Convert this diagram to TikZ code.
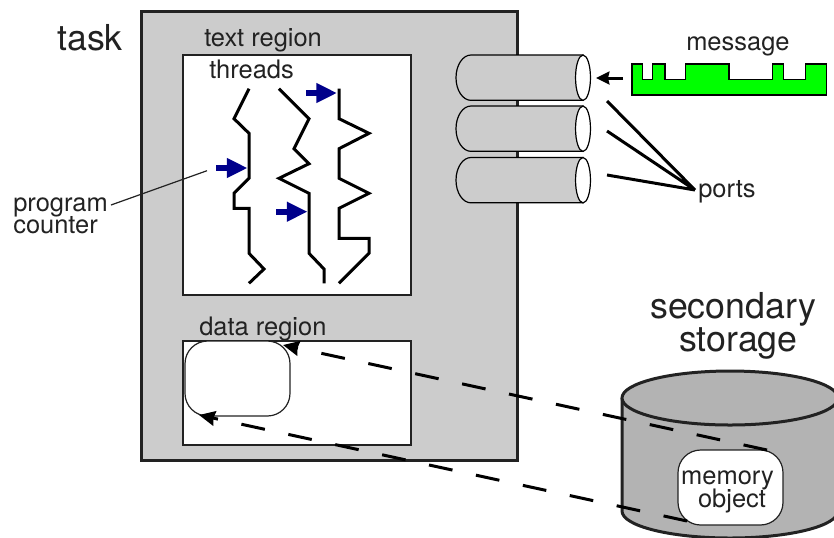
\documentclass[tikz,border=0pt]{standalone}
\usepackage{fontspec}
\setmainfont{TeX Gyre Heros}
\usetikzlibrary{arrows.meta}
\definecolor{taskgray}{HTML}{CCCCCC}
\definecolor{diskgray}{HTML}{B3B3B3}
\definecolor{pcblue}{RGB}{0,0,139}
\definecolor{ink}{HTML}{222222}
\tikzset{
  thin line/.style={draw=ink,line width=0.9pt},
  heavy/.style={draw=black,line width=2.25pt,line join=miter},
  label/.style={anchor=base west,inner sep=0pt,text=ink,font=\fontsize{19.1}{16.5}\selectfont},
  biglabel/.style={label,font=\fontsize{26.8}{24.75}\selectfont},
  pc arrow/.style={draw=pcblue,line width=4.5pt,-{Triangle[length=15.5pt,width=14pt]}},
  fetch/.style={draw=black,line width=2.25pt,dash pattern=on 18pt off 18pt,-{Stealth[length=12pt,width=11pt,inset=1pt]}},
  region/.style={fill=white,draw=ink,line width=0.9pt},
}
\begin{document}
\begin{tikzpicture}[x=0.75pt,y=-0.75pt]
\clip (0,0) rectangle (834,537);
% task body
\draw[fill=taskgray,draw=ink,line width=2.25pt] (141,11) rectangle (517,460);
\node[biglabel] (tasklabel) at (57,50) {task};
\draw[region] (183,55) rectangle (411,295);
\draw[region] (183,341) rectangle (411,445);
\node[label] (textlabel) at (204,46) {text region};
\node[label] (threadlabel) at (209,78) {threads};
\node[label] (datalabel) at (199,335) {data region};
% threads
\draw[heavy] (249,88.7)--(234,118.7)--(249,133.3)--(249,178.3)--(234,193.3)--(234,208.3)--(249,208.3)--(249,253.3)--(264,269)--(249,283.3);
\draw[heavy] (279,88.7)--(309,118.7)--(294,148.7)--(309,163.7)--(279,178.3)--(309,193.3)--(309,253.3)--(324,269)--(324,283.3);
\draw[heavy] (339,88.7)--(339,118.7)--(369,133.3)--(339,148.7)--(339,178.3)--(369,193.3)--(339,208.3)--(339,238.3)--(369,238.3)--(369,253.3)--(339,283.3);
% program counters
\draw[pc arrow] (216,168)--(247.5,168);
\draw[pc arrow] (276,211.7)--(307.5,211.7);
\draw[pc arrow] (306,93)--(337,93);
\node[label,align=left] (pc) at (13,233) {program\\[-2pt]counter};
\coordinate (pcstart) at (111,205);
\coordinate (pcend) at (207,170.7);
\draw[thin line] (pcstart)--(pcend);
% ports
\foreach \t/\n in {55/a,106/b,157.5/c}{
  \path[fill=taskgray,draw=black,line width=0.9pt] (471,\t) arc[start angle=90,end angle=270,x radius=11.25pt,y radius=17pt] -- ++(112,0) -- ++(0,-45.3) -- cycle;
  \draw[fill=white,draw=black,line width=0.9pt] (583,\t+22.7) ellipse[x radius=5.6pt,y radius=17pt];
  \coordinate (port\n) at (583,\t+22.7);
}
% message
\draw[fill=green,draw=black,line width=0.9pt] (632,64)--(642.3,64)--(642.3,79.3)--(652.7,79.3)--(652.7,64)--(665,64)--(665,79.3)--(685.7,79.3)--(685.7,64)--(729,64)--(729,79.3)--(772.7,79.3)--(772.7,64)--(783.3,64)--(783.3,79.3)--(805.7,79.3)--(805.7,64)--(826.7,64)--(826.7,95)--(632,95)--cycle;
\node[label] (msglabel) at (686,50) {message};
\coordinate (msgfrom) at (623,78);
\coordinate (msgto) at (596,78);
\draw[draw=black,line width=2.25pt,-{Stealth[length=10pt,width=9.5pt,inset=1pt]}] (msgfrom)--(msgto);
\node[label] (ports) at (698,197) {ports};
\coordinate (pj) at (695,190);
\coordinate (pa) at (607,101);
\coordinate (pb) at (607,131);
\coordinate (pc2) at (607,175);
\draw[heavy] (pa)--(pj) (pb)--(pj) (pc2)--(pj);
% secondary storage
\node[biglabel,anchor=base,align=center] (storage) at (733,351) {secondary\\\hspace*{8pt}storage};
\path[fill=diskgray] (622,398)--(622,511) arc[start angle=180,end angle=360,x radius=81pt,y radius=20.25pt]--(838,398)--cycle;
\draw[line width=2.25pt,draw=ink] (622,398)--(622,511) arc[start angle=180,end angle=360,x radius=81pt,y radius=20.25pt]--(838,398);
\draw[fill=diskgray,draw=ink,line width=2.25pt] (730,398) ellipse[x radius=81pt,y radius=20.25pt];
\node[fill=white,draw=ink,line width=0.9pt,rounded corners=17pt,minimum width=78.75pt,minimum height=56.25pt,inner sep=0pt] (mem) at (730.5,487.5) {};
\node[label,anchor=base,align=center] (memlabel) at (727.5,507) {memory\\[-2.5pt]\hspace*{6.75pt}object};
% mapped window
\draw[region,rounded corners=17pt] (185,341) rectangle (290,416);
\coordinate (m1) at (767,450);
\coordinate (m2) at (687,521);
\coordinate (w1) at (283,345);
\coordinate (w2) at (199,415);
\draw[fetch] (m1)--(w1);
\draw[fetch] (m2)--(w2);
\end{tikzpicture}
\end{document}
